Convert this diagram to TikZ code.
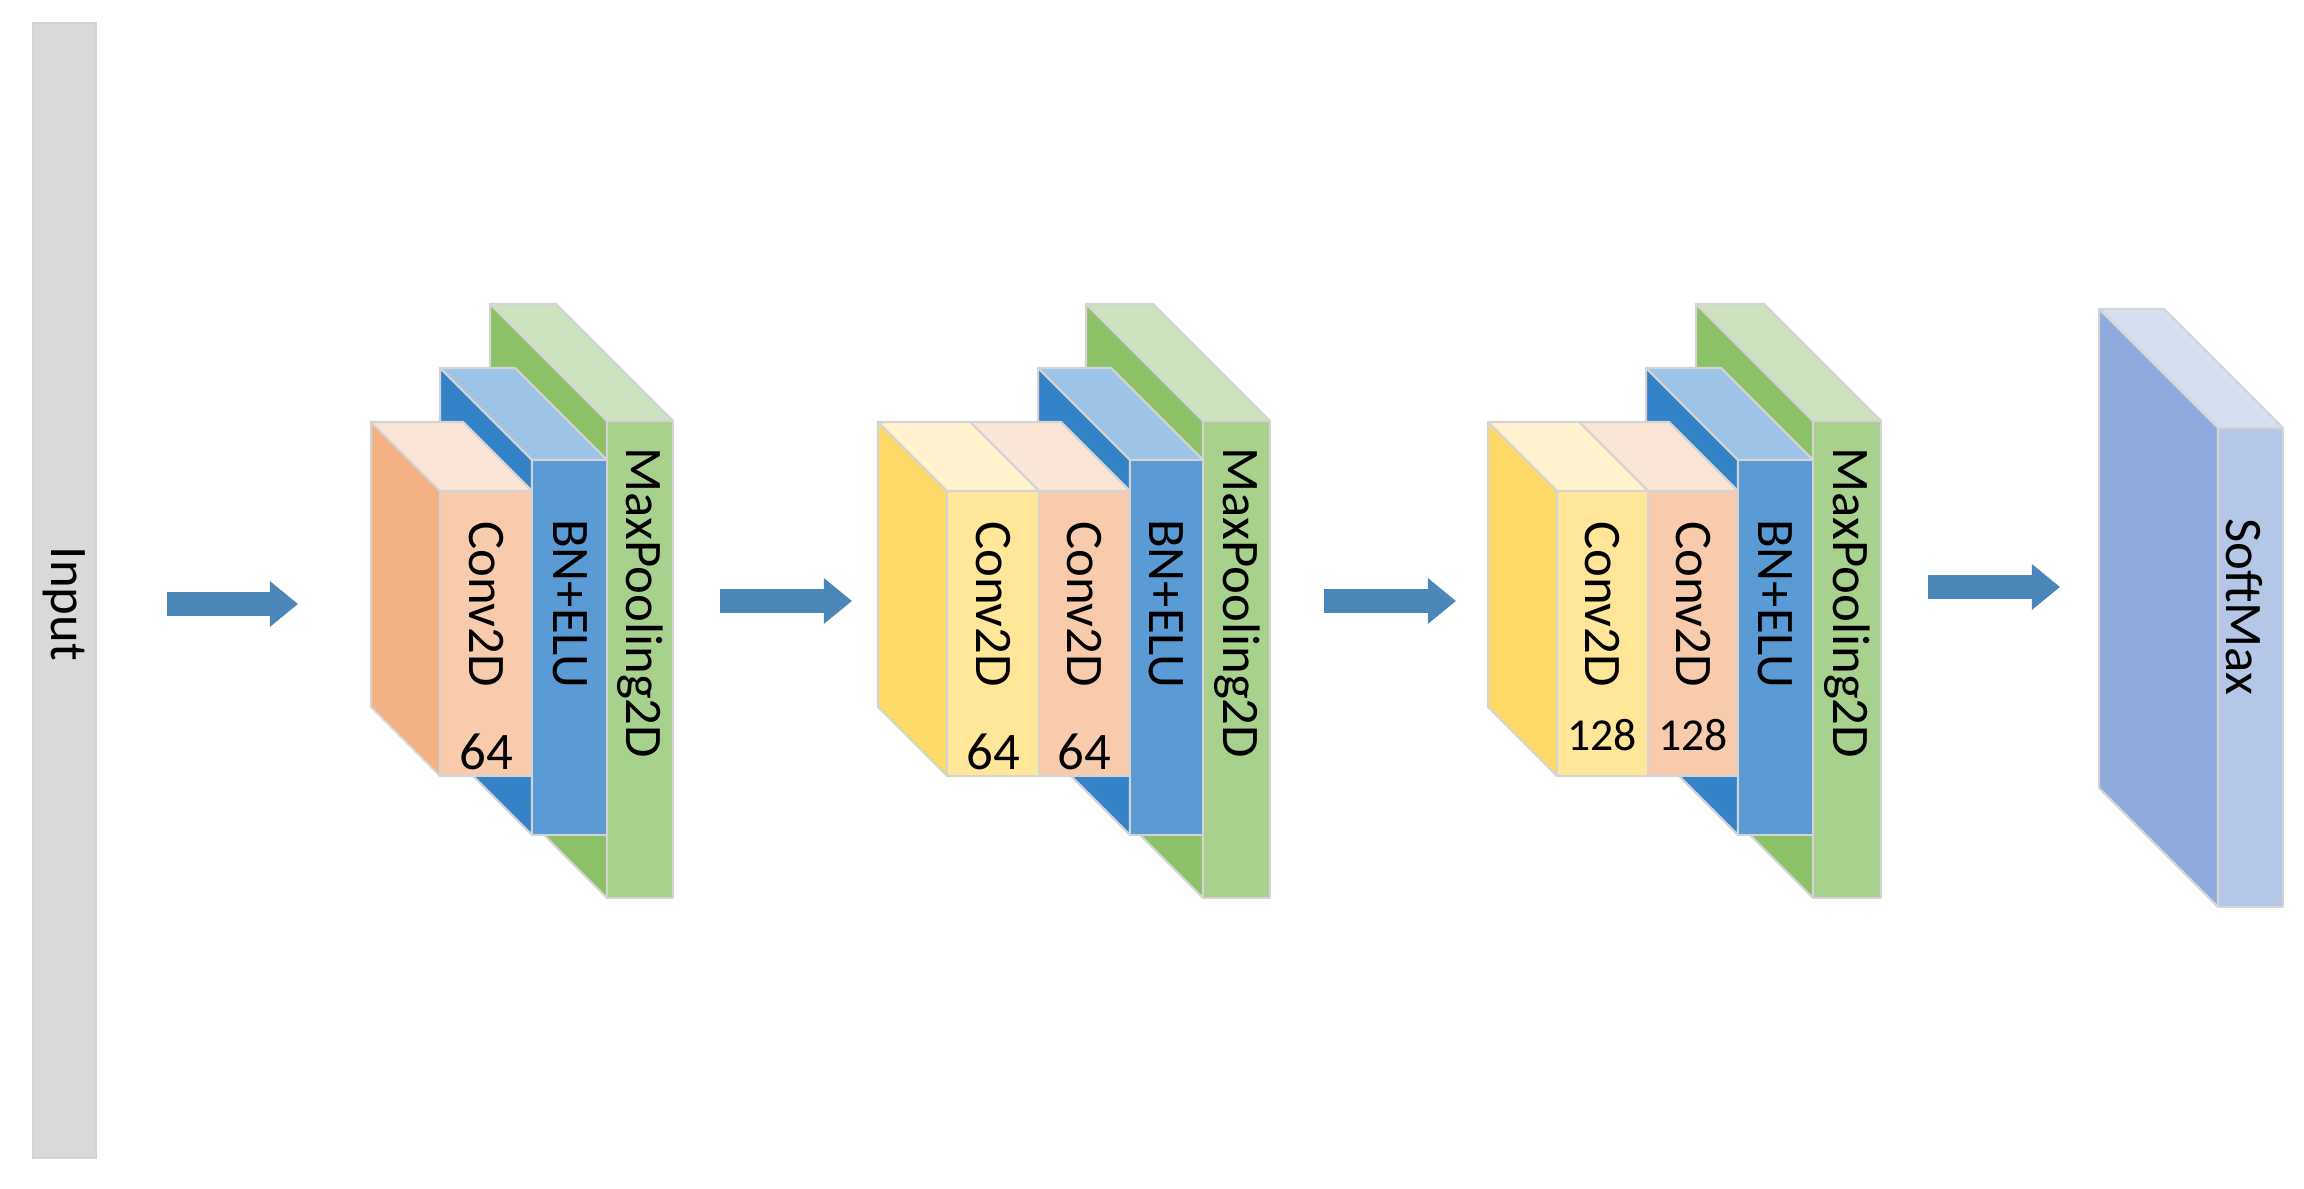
\documentclass[tikz,border=0pt]{standalone}
\usepackage{fontspec}
\setmainfont{Carlito}
\usetikzlibrary{arrows.meta}
\definecolor{pkF}{HTML}{F8CBAD}\definecolor{pkT}{HTML}{FBE5D6}\definecolor{pkS}{HTML}{F4B183}
\definecolor{ylF}{HTML}{FFE699}\definecolor{ylT}{HTML}{FFF2CC}\definecolor{ylS}{HTML}{FFD966}
\definecolor{buF}{HTML}{5B9BD5}\definecolor{buT}{HTML}{9DC3E6}\definecolor{buS}{HTML}{3483C8}
\definecolor{grF}{HTML}{A9D18E}\definecolor{grT}{HTML}{CDE3BF}\definecolor{grS}{HTML}{8CC168}
\definecolor{smF}{HTML}{B4C7E7}\definecolor{smT}{HTML}{D6DFEF}\definecolor{smS}{HTML}{8FAADC}
\definecolor{arr}{HTML}{4A86B8}\definecolor{edge}{HTML}{D4D4D4}
\tikzset{face/.style={draw=edge,line width=0.6pt,line join=round},
 lbl/.style={rotate=-90,font=\fontsize{15}{15}\selectfont,inner sep=0pt},
 num/.style={font=\fontsize{15}{15}\selectfont,inner sep=0pt},
 fat/.style={draw=arr,line width=6.8pt,-{Triangle[width=12.5pt,length=8pt]}}}
% #1 x1, #2 x2, #3 ytop, #4 ybot, #5 depth, #6 side, #7 top, #8 front
\newcommand\myslab[8]{%
 \fill[#6,face] (#1,#3)--(#1-#5,#3-#5)--(#1-#5,#4-#5)--(#1,#4)--cycle;
 \fill[#7,face] (#1,#3)--(#1-#5,#3-#5)--(#2-#5,#3-#5)--(#2,#3)--cycle;
 \fill[#8,face] (#1,#3) rectangle (#2,#4);}
\begin{document}
\begin{tikzpicture}[x=0.01cm,y=-0.01cm]
\useasboundingbox (0,0) rectangle (2304,1189);
% Input
\fill[fill={rgb,255:red,217;green,217;blue,217},draw=edge] (33,23) rectangle (96,1158);
\node[lbl] (input) at (64,604) {Input};
% Block 1
\myslab{607}{673}{421}{898}{117}{grS}{grT}{grF}
\myslab{532}{607}{460}{835}{92}{buS}{buT}{buF}
\myslab{440}{532}{491}{776}{69}{pkS}{pkT}{pkF}
\node[lbl] (c1) at (486,604) {Conv2D};
\node[num] (n1) at (486,752) {64};
\node[lbl] (b1) at (570,604) {BN+ELU};
\node[lbl] (m1) at (640,603) {MaxPooling2D};
% Block 2
\myslab{1203}{1270}{421}{898}{117}{grS}{grT}{grF}
\myslab{1130}{1203}{460}{835}{92}{buS}{buT}{buF}
\myslab{1039}{1130}{491}{776}{69}{pkS}{pkT}{pkF}
\myslab{947}{1039}{491}{776}{69}{ylS}{ylT}{ylF}
\node[lbl] (c21) at (993,604) {Conv2D};
\node[num] (n21) at (993,752) {64};
\node[lbl] (c22) at (1084,604) {Conv2D};
\node[num] (n22) at (1084,752) {64};
\node[lbl] (b2) at (1166,604) {BN+ELU};
\node[lbl] (m2) at (1237,603) {MaxPooling2D};
% Block 3
\myslab{1813}{1881}{421}{898}{117}{grS}{grT}{grF}
\myslab{1738}{1813}{460}{835}{92}{buS}{buT}{buF}
\myslab{1648}{1738}{491}{776}{69}{pkS}{pkT}{pkF}
\myslab{1557}{1648}{491}{776}{69}{ylS}{ylT}{ylF}
\node[lbl] (c31) at (1602,604) {Conv2D};
\node[num,font=\fontsize{13}{13}\selectfont] (n31) at (1602,735) {128};
\node[lbl] (c32) at (1693,604) {Conv2D};
\node[num,font=\fontsize{13}{13}\selectfont] (n32) at (1693,735) {128};
\node[lbl] (b3) at (1775,604) {BN+ELU};
\node[lbl] (m3) at (1847,603) {MaxPooling2D};
% SoftMax
\myslab{2218}{2283}{428}{907}{119}{smS}{smT}{smF}
\node[lbl] (sm) at (2244,607) {SoftMax};
% Arrows
\coordinate (a1s) at (167,604); \coordinate (a1e) at (298,604);
\coordinate (a2s) at (720,601); \coordinate (a2e) at (852,601);
\coordinate (a3s) at (1324,601); \coordinate (a3e) at (1456,601);
\coordinate (a4s) at (1928,587); \coordinate (a4e) at (2060,587);
\draw[fat] (a1s) -- (a1e);
\draw[fat] (a2s) -- (a2e);
\draw[fat] (a3s) -- (a3e);
\draw[fat] (a4s) -- (a4e);
\end{tikzpicture}
\end{document}
